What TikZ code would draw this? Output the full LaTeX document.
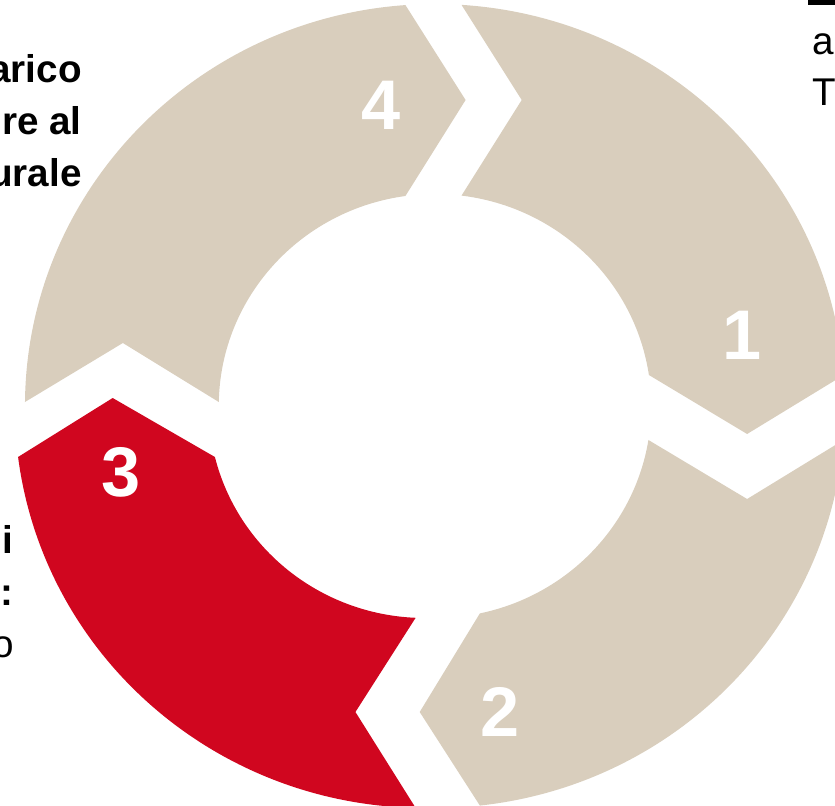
\documentclass[tikz,border=0pt]{standalone}
\usepackage{fontspec}
\setmainfont{Liberation Sans}
\usepackage{xcolor}
\usepackage{tikz}
\usetikzlibrary{positioning}
\definecolor{sand}{HTML}{D9CEBD}
\definecolor{crimson}{HTML}{D0061F}
\newcommand{\ringpiece}[5]{%
  \fill[#5] ({#1-asin(#2/402)}:402) arc[start angle={#1-asin(#2/402)}, end angle={#3-asin(#4/402)}, radius=402]
    -- ([rotate={#3-90}]{#4+59},306)
    -- ({#3-asin(#4/212)}:212) arc[start angle={#3-asin(#4/212)}, end angle={#1-asin(#2/212)}, radius=212]
    -- ([rotate={#1-90}]{#2+59},306) -- cycle;}

\begin{document}
\begin{tikzpicture}[x=0.02cm, y=0.02cm,
  num/.style={text=white, inner sep=0pt, font=\fontsize{40}{40}\selectfont\bfseries},
  frag/.style={inner sep=0pt, font=\fontsize{22}{26}\selectfont}]
\useasboundingbox (-435,-399) rectangle (400,406);
\begin{scope}[xscale=1.02]
\ringpiece{90}{26}{0}{-31}{sand}
\ringpiece{0}{34}{-90}{-44}{sand}
\begin{scope}[shift={(-10,0)}]
\ringpiece{-90}{9}{-180}{-51}{crimson}
\end{scope}
\ringpiece{-180}{4}{-270}{-29}{sand}
\end{scope}
\node[num] (one) at (307,71) {1};
\node[num] (two) at (65,-306) {2};
\node[num] (three) at (-314,-66) {3};
\node[num] (four) at (-54,301) {4};
\node[frag, font=\fontsize{22}{26}\selectfont\bfseries, anchor=base east] (tl1) at (-353,323) {arico};
\node[frag, font=\fontsize{22}{26}\selectfont\bfseries, anchor=base east] (tl2) at (-353,271) {re al};
\node[frag, font=\fontsize{22}{26}\selectfont\bfseries, anchor=base east] (tl3) at (-353,219) {urale};
\node[frag, anchor=base west] (tr1) at (377,351) {a};
\node[frag, anchor=base west] (tr2) at (377,300) {T};
\fill (373,401) rectangle (400,406);
\node[frag, font=\fontsize{22}{26}\selectfont\bfseries, anchor=base east] (bl1) at (-421,-147) {i};
\node[frag, font=\fontsize{22}{26}\selectfont\bfseries, anchor=base east] (bl2) at (-421,-199) {:};
\node[frag, anchor=base east] (bl3) at (-421,-251) {o};
\end{tikzpicture}
\end{document}
